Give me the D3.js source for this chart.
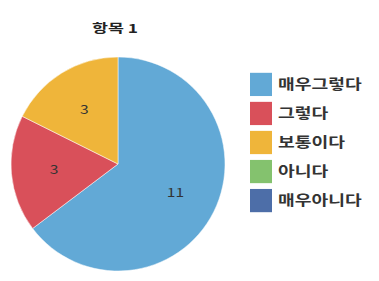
<!DOCTYPE html>
<html>
<head>
<meta charset="utf-8">
<script src="https://cdn.jsdelivr.net/npm/d3@7"></script>
<style>
  body { margin: 0; background: #fff; }
  svg text { font-family: "Noto Sans CJK KR", "Noto Sans", sans-serif; }
</style>
</head>
<body>
<svg width="379" height="281"></svg>
<script>
const categories = ['매우그렇다', '그렇다', '보통이다', '아니다', '매우아니다'];
const values = [11, 3, 3, 0, 0];
const colors = ['#62a9d6', '#d9505a', '#efb53a', '#84c26e', '#4d6ea8'];
const title = '항목 1';

const svg = d3.select('svg');

const cx = 118, cy = 164, radius = 107;

const data = categories.map((c, i) => ({ name: c, value: values[i], color: colors[i] }));

const pie = d3.pie()
    .sort(null)
    .value(d => d.value);

const arc = d3.arc()
    .innerRadius(0)
    .outerRadius(radius);

const labelArc = d3.arc()
    .innerRadius(radius * 0.6)
    .outerRadius(radius * 0.6);

const chart = svg.append('g')
    .attr('transform', `translate(${cx}, ${cy})`);

const slices = chart.selectAll('g.slice')
    .data(pie(data))
    .enter()
    .append('g')
    .attr('class', 'slice');

slices.append('path')
    .attr('d', arc)
    .attr('fill', d => d.data.color)
    .attr('stroke', d => d.data.value ? '#fff' : 'none')
    .attr('stroke-width', 0.5);

slices.filter(d => d.data.value > 0)
    .append('text')
    .attr('transform', d => `translate(${labelArc.centroid(d)}) scale(1.3, 1)`)
    .attr('text-anchor', 'middle')
    .attr('dy', '0.35em')
    .attr('font-size', 12)
    .attr('fill', '#333')
    .text(d => d.data.value);

// title, stretched sideways like the reference
svg.append('text')
    .attr('transform', 'translate(115, 33) scale(1.45, 1)')
    .attr('text-anchor', 'middle')
    .attr('font-size', 12)
    .attr('font-weight', 'bold')
    .attr('fill', '#222')
    .text(title);

// legend
const legendY = d3.scaleBand()
    .domain(categories)
    .range([67, 218])
    .padding(0.2);

const legend = svg.append('g')
    .selectAll('g')
    .data(data)
    .enter()
    .append('g')
    .attr('transform', d => `translate(250, ${legendY(d.name)})`);

legend.append('rect')
    .attr('width', 22)
    .attr('height', legendY.bandwidth())
    .attr('fill', d => d.color);

legend.append('text')
    .attr('transform', `translate(28, ${legendY.bandwidth() / 2}) scale(1.3, 1)`)
    .attr('dy', '0.35em')
    .attr('font-size', 14)
    .attr('font-weight', 'bold')
    .attr('fill', '#333')
    .text(d => d.name);
</script>
</body>
</html>
